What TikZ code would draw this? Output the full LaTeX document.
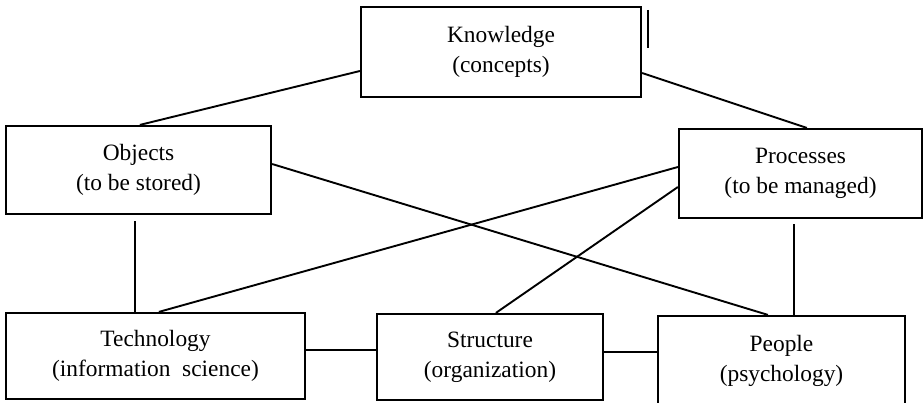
\documentclass[tikz,border=0pt]{standalone}
\usepackage{fontspec}
\setmainfont{Liberation Serif}
\begin{document}
\begin{tikzpicture}[x=1pt,y=-1pt,
  box/.style={draw, line width=2.2pt, inner sep=0pt, align=center,
    font=\fontsize{23.4}{30}\selectfont},
  link/.style={line width=1.9pt},
  thin link/.style={line width=1.3pt}]
\useasboundingbox (0,0) rectangle (924,403);
\node[box, minimum width=280pt, minimum height=90pt] (know) at (501,52) {\raisebox{5pt}{\begin{tabular}{@{}c@{}}Knowledge\\(concepts)\end{tabular}}};
\node[box, minimum width=265pt, minimum height=88pt] (obj) at (138.5,170) {Objects\\(to be stored)};
\node[box, minimum width=243pt, minimum height=89pt] (proc) at (800.5,173.5) {Processes\\(to be managed)};
\node[box, minimum width=299pt, minimum height=86pt] (tech) at (155.5,356) {Technology\\(information\ \ science)};
\node[box, minimum width=226pt, minimum height=86pt] (struc) at (490,357) {Structure\\(organization)};
\node[box, minimum width=247pt, minimum height=90pt] (peop) at (781.5,361) {People\\(psychology)};
% connectors
\draw[link] ([yshift=-19pt]know.west) -- ([xshift=135pt]obj.north west);
\draw[link] ([yshift=-21pt]know.east) -- ([xshift=129pt]proc.north west);
\draw[link] ([yshift=6pt]obj.east) -- ([xshift=111pt]peop.north west);
\draw[link] ([yshift=6.5pt]proc.west) -- ([xshift=154pt]tech.north west);
\draw[link] ([yshift=-13.5pt]proc.west) -- ([xshift=120pt]struc.north west);
\draw[thin link] ([xshift=130pt,yshift=-6pt]obj.south west) -- ([xshift=130pt]tech.north west);
\draw[thin link] ([xshift=116pt,yshift=-5pt]proc.south west) -- ([xshift=137pt]peop.north west);
\draw[link] ([yshift=6pt]tech.east) -- ([yshift=7pt]struc.west);
\draw[link] ([yshift=5pt]struc.east) -- ([yshift=9pt]peop.west);
% stray mark near the knowledge box
\draw[line width=2.4pt] (648,10) -- (648,48);
\end{tikzpicture}
\end{document}
